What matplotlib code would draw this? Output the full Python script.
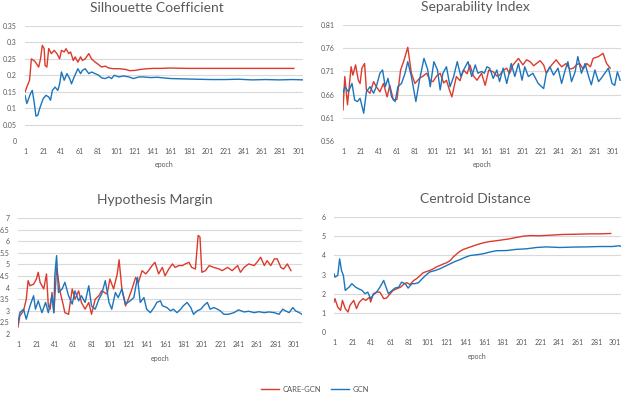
import matplotlib
matplotlib.use('Agg')
import matplotlib.pyplot as plt
from matplotlib.lines import Line2D

plt.rcParams['font.family'] = ['Lato', 'DejaVu Sans']

# ---- data ----
series_names = ['CARE-GCN', 'GCN']
x_ticks = list(range(1, 302, 20))

# Silhouette Coefficient
sil_care_ep = [1, 3, 6, 8, 12, 16, 18, 20, 22, 23, 25, 27, 28, 30, 33, 36, 39, 41, 44, 46,
               49, 51, 54, 56, 59, 62, 64, 67, 71, 74, 78, 82, 85, 89, 93, 98, 105, 111, 116, 122,
               128, 135, 142, 150, 160, 180, 200, 220, 240, 260, 280, 296]
sil_care = [0.149, 0.164, 0.185, 0.250, 0.242, 0.225, 0.250, 0.291, 0.281, 0.230,
            0.225, 0.281, 0.276, 0.266, 0.276, 0.266, 0.250, 0.276, 0.271, 0.281,
            0.266, 0.271, 0.245, 0.256, 0.240, 0.256, 0.245, 0.250, 0.266, 0.250,
            0.240, 0.232, 0.225, 0.228, 0.222, 0.220, 0.220, 0.218, 0.214, 0.215,
            0.218, 0.220, 0.221, 0.221, 0.222, 0.221, 0.221, 0.221, 0.221, 0.221,
            0.221, 0.221]
sil_gcn_ep = [1, 3, 5, 7, 9, 11, 13, 15, 17, 19, 21, 24, 27, 29, 31, 34, 37, 39, 41, 44,
              47, 50, 52, 55, 59, 62, 64, 67, 71, 74, 78, 82, 85, 89, 93, 96, 99, 104, 109, 115,
              120, 126, 131, 139, 146, 153, 161, 175, 190, 205, 220, 235, 250, 265, 280, 295, 306]
sil_gcn = [0.139, 0.114, 0.129, 0.144, 0.154, 0.119, 0.076, 0.078, 0.098, 0.114,
           0.129, 0.139, 0.134, 0.124, 0.154, 0.164, 0.154, 0.174, 0.210, 0.185,
           0.205, 0.190, 0.174, 0.195, 0.220, 0.205, 0.215, 0.220, 0.205, 0.210,
           0.205, 0.200, 0.192, 0.190, 0.195, 0.190, 0.200, 0.195, 0.198, 0.195,
           0.190, 0.195, 0.195, 0.193, 0.194, 0.192, 0.190, 0.189, 0.188, 0.187,
           0.187, 0.188, 0.186, 0.187, 0.186, 0.187, 0.186]

# Separability Index
sep_care_ep = [1, 3, 6, 10, 12, 15, 18, 20, 22, 25, 27, 31, 35, 38, 42, 46, 50, 53, 57, 61,
               65, 69, 73, 77, 81, 86, 90, 94, 98, 101, 105, 109, 113, 116, 119, 122, 127, 131, 135, 139,
               142, 146, 150, 155, 159, 163, 168, 172, 175, 179, 183, 186, 190, 196, 201, 205, 209, 213, 216, 220,
               224, 227, 230, 233, 238, 241, 244, 249, 253, 257, 261, 264, 268, 272, 276, 279, 285, 290, 294, 298]
sep_care = [0.627, 0.699, 0.638, 0.720, 0.702, 0.724, 0.691, 0.684, 0.717, 0.727,
            0.670, 0.663, 0.688, 0.677, 0.666, 0.684, 0.655, 0.680, 0.648, 0.650,
            0.713, 0.735, 0.762, 0.706, 0.684, 0.695, 0.700, 0.706, 0.690, 0.688,
            0.700, 0.706, 0.685, 0.691, 0.672, 0.655, 0.699, 0.690, 0.713, 0.705,
            0.724, 0.700, 0.691, 0.706, 0.680, 0.713, 0.709, 0.700, 0.702, 0.712,
            0.717, 0.705, 0.724, 0.738, 0.724, 0.735, 0.731, 0.722, 0.727, 0.733,
            0.724, 0.706, 0.716, 0.724, 0.735, 0.727, 0.720, 0.727, 0.715, 0.717,
            0.725, 0.727, 0.715, 0.727, 0.720, 0.738, 0.742, 0.749, 0.727, 0.717]
sep_gcn_ep = [1, 3, 7, 11, 14, 17, 20, 24, 27, 31, 35, 38, 42, 45, 48, 51, 55, 59, 62, 66,
              70, 73, 77, 82, 86, 91, 95, 98, 102, 106, 109, 112, 116, 120, 124, 128, 132, 135, 140, 144,
              148, 151, 155, 158, 161, 164, 168, 172, 175, 179, 183, 188, 192, 196, 200, 203, 207, 212, 218, 224,
              227, 231, 235, 240, 244, 248, 251, 255, 259, 262, 266, 270, 274, 277, 281, 285, 288, 292, 296, 300,
              303, 306, 309]
sep_gcn = [0.663, 0.677, 0.666, 0.684, 0.648, 0.645, 0.652, 0.620, 0.666, 0.677,
           0.663, 0.677, 0.706, 0.713, 0.677, 0.695, 0.655, 0.645, 0.677, 0.684,
           0.706, 0.731, 0.699, 0.645, 0.691, 0.738, 0.715, 0.677, 0.731, 0.713,
           0.670, 0.706, 0.720, 0.677, 0.699, 0.731, 0.699, 0.713, 0.731, 0.699,
           0.724, 0.706, 0.710, 0.706, 0.720, 0.717, 0.695, 0.713, 0.688, 0.717,
           0.684, 0.727, 0.699, 0.727, 0.691, 0.720, 0.699, 0.706, 0.684, 0.673,
           0.706, 0.720, 0.702, 0.717, 0.684, 0.713, 0.731, 0.688, 0.709, 0.742,
           0.706, 0.727, 0.699, 0.681, 0.713, 0.688, 0.695, 0.706, 0.717, 0.684,
           0.680, 0.709, 0.691]

# Hypothesis Margin
hyp_care_ep = [1, 3, 7, 10, 12, 14, 18, 21, 23, 25, 29, 32, 34, 36, 38, 40, 41, 43, 47, 50,
               52, 56, 60, 63, 67, 70, 74, 78, 81, 85, 89, 92, 98, 101, 105, 109, 111, 114, 118, 121,
               125, 129, 132, 136, 140, 143, 147, 150, 154, 158, 161, 165, 169, 172, 176, 180, 183, 187, 190, 194,
               197, 199, 201, 205, 209, 214, 220, 223, 229, 234, 240, 243, 247, 252, 258, 261, 265, 269, 272, 276,
               280, 283, 287, 290, 294, 298]
hyp_care = [2.30, 2.78, 3.00, 3.50, 4.30, 4.08, 4.15, 4.37, 4.66, 4.23,
            3.94, 4.59, 3.21, 3.07, 3.79, 2.92, 3.50, 4.85, 3.79, 3.29,
            2.92, 2.85, 3.94, 3.50, 3.86, 3.36, 3.07, 3.36, 2.85, 3.50,
            3.65, 3.86, 3.72, 4.37, 3.94, 4.59, 5.20, 3.94, 3.21, 3.50,
            3.94, 4.44, 4.22, 4.73, 4.59, 4.73, 4.95, 5.09, 4.59, 4.87,
            4.51, 4.80, 5.02, 4.87, 4.95, 4.95, 5.02, 5.09, 4.87, 4.80,
            6.25, 6.18, 4.66, 4.73, 4.95, 4.87, 4.80, 4.73, 4.87, 4.73,
            4.95, 4.66, 4.87, 5.02, 4.95, 5.09, 5.31, 4.95, 5.16, 4.95,
            5.24, 5.24, 4.87, 4.80, 5.02, 4.73]
hyp_gcn_ep = [1, 3, 7, 10, 14, 18, 20, 23, 27, 31, 34, 38, 40, 41, 43, 45, 49, 52, 56, 60,
              63, 67, 70, 74, 78, 81, 85, 89, 92, 96, 100, 103, 107, 110, 114, 118, 123, 127, 131, 134,
              138, 141, 145, 149, 152, 156, 158, 163, 167, 170, 174, 178, 181, 185, 189, 192, 196, 200, 203, 207,
              210, 214, 218, 221, 225, 230, 236, 241, 247, 252, 258, 263, 269, 274, 280, 285, 289, 292, 296, 300,
              303, 307, 310]
hyp_gcn = [2.49, 2.92, 3.07, 2.64, 3.21, 3.65, 3.07, 3.43, 2.92, 3.36,
           2.92, 3.65, 2.92, 4.51, 5.38, 3.79, 3.94, 4.23, 3.65, 3.29,
           3.86, 3.43, 3.65, 3.36, 4.08, 3.21, 3.07, 3.50, 3.72, 4.30,
           3.36, 3.07, 3.79, 3.57, 3.94, 3.29, 3.43, 3.57, 4.44, 3.36,
           3.57, 3.07, 2.92, 3.14, 3.36, 3.43, 3.22, 3.14, 3.00, 3.07,
           2.92, 3.07, 3.22, 3.36, 3.14, 2.85, 3.00, 3.07, 3.22, 3.36,
           3.07, 3.14, 3.07, 3.00, 2.85, 2.85, 2.92, 3.04, 2.95, 2.98,
           2.92, 2.96, 2.92, 2.95, 2.92, 2.85, 3.07, 3.00, 2.92, 3.14,
           3.00, 2.92, 2.85]

# Centroid Distance
cen_care_ep = [1, 2, 5, 8, 10, 13, 16, 18, 22, 25, 28, 32, 35, 39, 40, 43, 47, 50, 54, 57,
               61, 64, 68, 72, 76, 79, 82, 86, 89, 93, 96, 100, 103, 107, 110, 114, 118, 121, 125, 128,
               132, 135, 139, 146, 153, 160, 167, 174, 181, 188, 195, 203, 210, 220, 231, 245, 259, 273, 284, 296]
cen_care = [1.56, 1.74, 1.30, 1.13, 1.65, 1.22, 1.04, 1.39, 1.65, 1.22,
            1.56, 1.74, 1.65, 1.82, 1.56, 2.00, 2.08, 2.08, 1.74, 1.77,
            2.00, 2.17, 2.26, 2.34, 2.52, 2.57, 2.47, 2.69, 2.78, 2.95,
            3.09, 3.16, 3.21, 3.30, 3.39, 3.47, 3.56, 3.61, 3.73, 3.91,
            4.08, 4.20, 4.31, 4.43, 4.55, 4.65, 4.72, 4.76, 4.81, 4.86,
            4.93, 5.00, 5.03, 5.02, 5.05, 5.09, 5.10, 5.12, 5.12, 5.14]
cen_gcn_ep = [1, 2, 5, 7, 9, 11, 13, 17, 20, 24, 27, 31, 34, 37, 40, 43, 47, 50, 54, 56,
              59, 63, 66, 70, 73, 77, 80, 84, 87, 91, 95, 98, 103, 109, 114, 119, 125, 130, 135, 141,
              146, 153, 160, 167, 174, 185, 195, 206, 217, 227, 242, 256, 270, 284, 298, 305, 307]
cen_gcn = [3.04, 2.86, 2.95, 3.82, 3.21, 2.95, 2.17, 2.34, 2.52, 2.34,
           2.26, 2.17, 2.00, 2.08, 1.74, 1.94, 2.12, 2.34, 2.69, 2.40,
           2.00, 2.17, 2.29, 2.34, 2.60, 2.52, 2.29, 2.52, 2.52, 2.57,
           2.78, 2.92, 3.13, 3.21, 3.30, 3.42, 3.56, 3.68, 3.77, 3.90,
           3.99, 4.03, 4.08, 4.17, 4.24, 4.25, 4.31, 4.34, 4.41, 4.44,
           4.41, 4.43, 4.44, 4.46, 4.46, 4.50, 4.47]

RED = '#DC3A2C'
BLUE = '#1C75BC'
GRID = '#D9D9D9'
TXT = '#595959'
LW = 1.0

W, H = 622, 394
fig = plt.figure(figsize=(W / 100, H / 100), dpi=100)


def px_axes(left, right, top, bottom):
    return fig.add_axes([left / W, 1 - bottom / H, (right - left) / W, (bottom - top) / H])


def style(ax, title, title_x, xmax, ylim, yticks, ylabels):
    ax.set_xlim(1, xmax)
    ax.set_ylim(*ylim)
    ax.set_yticks(yticks)
    ax.set_yticklabels(ylabels)
    ax.set_xticks(x_ticks)
    ax.set_xticklabels([str(t) for t in x_ticks])
    for s in ax.spines.values():
        s.set_visible(False)
    ax.grid(axis='y', color=GRID, linewidth=0.8)
    ax.set_axisbelow(True)
    ax.tick_params(length=0, labelsize=5, colors=TXT)
    ax.tick_params(axis='y', pad=6)
    ax.tick_params(axis='x', pad=5)
    bb = ax.get_position()
    fig.text(title_x / W, bb.y1 + 18 / H, title, ha='center', va='center',
             fontsize=10, color=TXT)
    fig.text((bb.x0 + bb.x1) / 2, bb.y0 - 24 / H, 'epoch', ha='center', va='center',
             fontsize=5, color=TXT)


ax1 = px_axes(25, 303, 26, 141)
ax1.plot(sil_care_ep, sil_care, color=RED, lw=LW)
ax1.plot(sil_gcn_ep, sil_gcn, color=BLUE, lw=LW)
style(ax1, 'Silhouette Coefficient', 157, 306, (0, 0.35),
      [0, 0.05, 0.1, 0.15, 0.2, 0.25, 0.3, 0.35],
      ['0', '0.05', '0.1', '0.15', '0.2', '0.25', '0.3', '0.35'])

ax2 = px_axes(343, 621, 25, 141)
ax2.plot(sep_care_ep, sep_care, color=RED, lw=LW)
ax2.plot(sep_gcn_ep, sep_gcn, color=BLUE, lw=LW)
style(ax2, 'Separability Index', 475, 310, (0.56, 0.81),
      [0.56, 0.61, 0.66, 0.71, 0.76, 0.81],
      ['0.56', '0.61', '0.66', '0.71', '0.76', '0.81'])

ax3 = px_axes(18, 302, 218, 334)
ax3.plot(hyp_care_ep, hyp_care, color=RED, lw=LW)
ax3.plot(hyp_gcn_ep, hyp_gcn, color=BLUE, lw=LW)
style(ax3, 'Hypothesis Margin', 155, 310, (2, 7),
      [2, 2.5, 3, 3.5, 4, 4.5, 5, 5.5, 6, 6.5, 7],
      ['2', '2.5', '3', '3.5', '4', '4.5', '5', '5.5', '6', '6.5', '7'])

ax4 = px_axes(334, 621, 217, 332)
ax4.plot(cen_care_ep, cen_care, color=RED, lw=LW)
ax4.plot(cen_gcn_ep, cen_gcn, color=BLUE, lw=LW)
style(ax4, 'Centroid Distance', 475, 307, (0, 6),
      [0, 1, 2, 3, 4, 5, 6], ['0', '1', '2', '3', '4', '5', '6'])

handles = [Line2D([], [], color=RED, lw=LW), Line2D([], [], color=BLUE, lw=LW)]
fig.legend(handles, series_names, loc='center', bbox_to_anchor=(315 / W, 1 - 389 / H),
           ncol=2, frameon=False, fontsize=5.5, handlelength=2.4, columnspacing=1.3,
           handletextpad=0.4, labelcolor=TXT)

fig.savefig('out.png', dpi=100)
